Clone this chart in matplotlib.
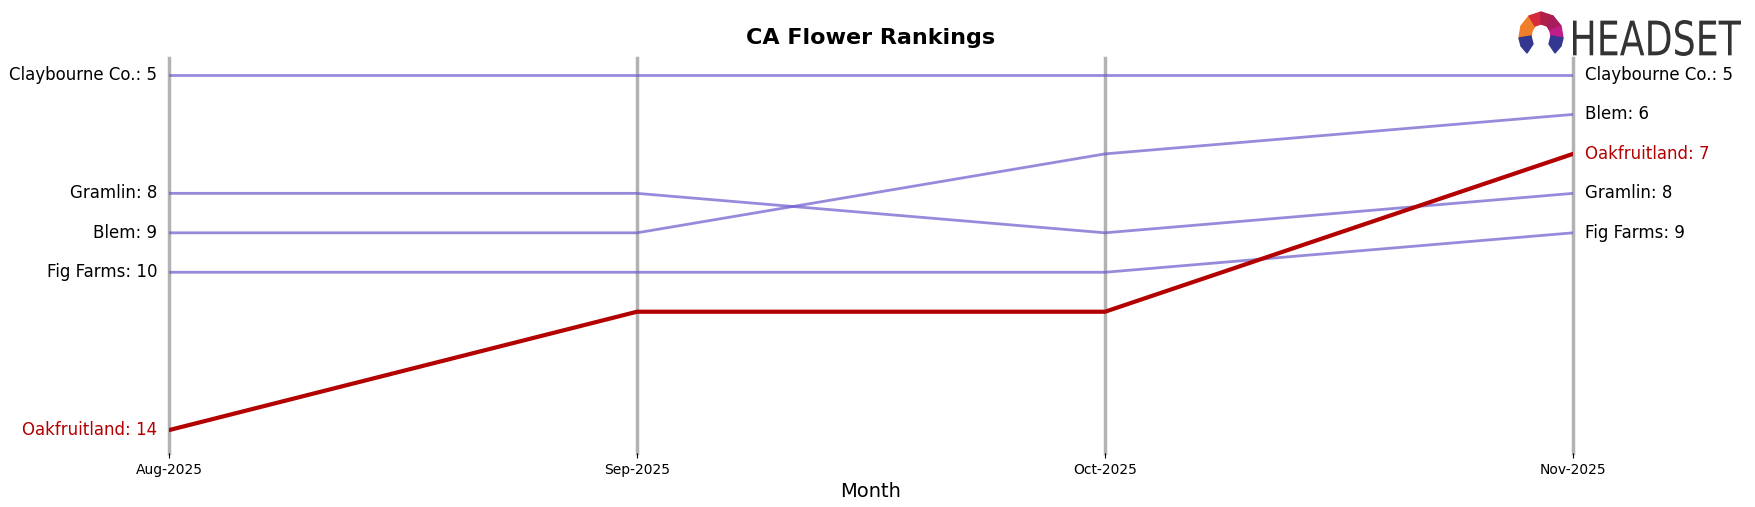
import matplotlib.pyplot as plt
from matplotlib.patches import Polygon, PathPatch
from matplotlib.textpath import TextPath
from matplotlib.font_manager import FontProperties
from matplotlib.transforms import Affine2D

months = ["Aug-2025", "Sep-2025", "Oct-2025", "Nov-2025"]
brands = ["Claybourne Co.", "Gramlin", "Blem", "Fig Farms", "Oakfruitland"]
ranks = {
    "Claybourne Co.": [5, 5, 5, 5],
    "Gramlin": [8, 8, 9, 8],
    "Blem": [9, 9, 7, 6],
    "Fig Farms": [10, 10, 10, 9],
    "Oakfruitland": [14, 11, 11, 7],
}
highlight = "Oakfruitland"

purple = "#6A5ACD"
red = "#B30000"

W, H = 1755, 507
fig = plt.figure(figsize=(W / 100, H / 100), dpi=100)
ax = fig.add_axes([169 / W, 1 - 453 / H, (1573 - 169) / W, (453 - 58) / H])

x = list(range(len(months)))
for i in x:
    ax.axvline(i, color="#a0a0a0", lw=2.5, alpha=0.8, zorder=0, clip_on=False)

for b in brands:
    if b == highlight:
        continue
    ax.plot(x, ranks[b], color=purple, lw=2, alpha=0.7, zorder=2)
ax.plot(x, ranks[highlight], color=red, lw=3, zorder=3)

# end labels
for b in brands:
    c = red if b == highlight else "black"
    ax.text(-0.025, ranks[b][0], f"{b}: {ranks[b][0]}", ha="right", va="center",
            fontsize=12, color=c)
    ax.text(x[-1] + 0.025, ranks[b][-1], f"{b}: {ranks[b][-1]}", ha="left", va="center",
            fontsize=12, color=c)

ax.set_xlim(0, 3)
ax.set_ylim(14.58, 4.57)
ax.set_xticks(x)
ax.set_xticklabels(months, fontsize=10)
ax.set_yticks([])
ax.set_xlabel("Month", fontsize=14)
for s in ax.spines.values():
    s.set_visible(False)
ax.set_title("CA Flower Rankings", fontsize=16, fontweight="bold", pad=10)

# logo, drawn in figure pixels (origin bottom-left)
tp = TextPath((0, 0), "HEADSET", size=1, prop=FontProperties(family="DejaVu Sans"))
ext = tp.get_extents()
sx = (1741 - 1573) / ext.width
sy = (56 - 20) / ext.height
tr = Affine2D().translate(-ext.x0, -ext.y0).scale(sx, sy).translate(1573, H - 56)
fig.patches.append(PathPatch(tr.transform_path(tp), color="#333333", lw=0))

# icon: hexagon ring, top part warm colours, two blue feet
cx, cy = 1541, H - 34
ring = [(-20, 8), (-12, 18), (0, 22), (12, 18), (20, 8), (22, -4)]
inner = [(-9, 3), (-6, 8), (0, 10), (6, 8), (9, 3), (10, -2)]
cols = ["#F07F2A", "#D42A3C", "#B01E4A", "#A81C5C", "#C01C8A"]
for k in range(5):
    poly = [(cx + ring[k][0], cy + ring[k][1]), (cx + ring[k + 1][0], cy + ring[k + 1][1]),
            (cx + inner[k + 1][0], cy + inner[k + 1][1]), (cx + inner[k][0], cy + inner[k][1])]
    fig.patches.append(Polygon(poly, closed=True, color=cols[k], transform=None))
fig.patches.append(Polygon([(cx - 20, cy + 8), (cx - 22, cy - 4), (cx - 10, cy - 2), (cx - 9, cy + 3)],
                           closed=True, color="#F07F2A", transform=None))
for sgn in (-1, 1):
    poly = [(cx + sgn * 22, cy - 4), (cx + sgn * 10, cy - 2), (cx + sgn * 8, cy - 10),
            (cx + sgn * 14, cy - 19), (cx + sgn * 20, cy - 12)]
    fig.patches.append(Polygon(poly, closed=True, color="#34378F", transform=None))

fig.savefig("out.png", dpi=100)
